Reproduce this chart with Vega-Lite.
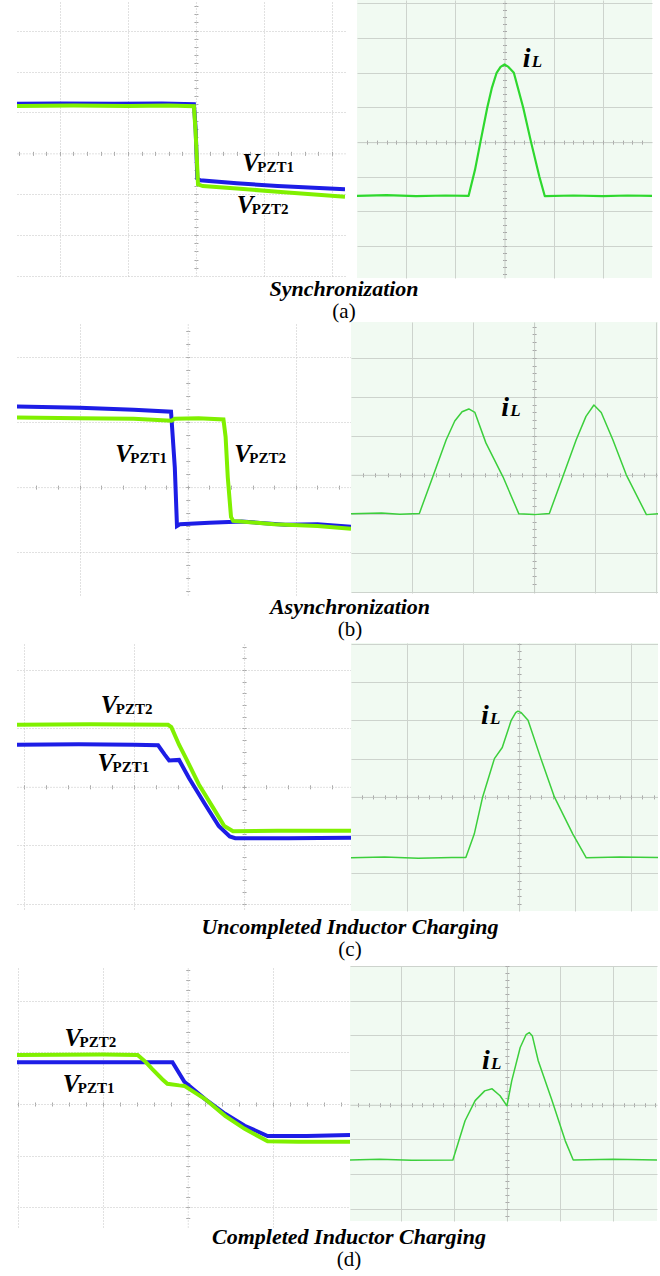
{
 "$schema": "https://vega.github.io/schema/vega-lite/v6.json",
 "padding": 0,
 "background": "white",
 "config": {"view": {"stroke": null}, "axis": {"zindex": 0}},
 "spacing": 0,
 "datasets": {
  "aL": [
   {"s":"b","t":-2.63,"v":1.21},{"s":"b","t":-2.0,"v":1.22},{"s":"b","t":-1.2,"v":1.21},{"s":"b","t":-0.5,"v":1.22},{"s":"b","t":-0.03,"v":1.2},{"s":"b","t":-0.005,"v":0.6},{"s":"b","t":0.02,"v":-0.62},{"s":"b","t":0.06,"v":-0.66},{"s":"b","t":0.6,"v":-0.73},{"s":"b","t":1.2,"v":-0.8},{"s":"b","t":2.19,"v":-0.88},
   {"s":"g","t":-2.63,"v":1.16},{"s":"g","t":-1.8,"v":1.17},{"s":"g","t":-1.0,"v":1.16},{"s":"g","t":-0.4,"v":1.17},{"s":"g","t":-0.03,"v":1.15},{"s":"g","t":-0.005,"v":0.5},{"s":"g","t":0.03,"v":-0.76},{"s":"g","t":0.1,"v":-0.8},{"s":"g","t":0.6,"v":-0.86},{"s":"g","t":1.2,"v":-0.94},{"s":"g","t":2.19,"v":-1.06}
  ],
  "aLlab": [{"t":0.68,"v":-0.42,"a":"V","b":"PZT1"},{"t":0.6,"v":-1.47,"a":"V","b":"PZT2"}],
  "aR": [
   {"t":-3,"v":-1.55},{"t":-2.4,"v":-1.53},{"t":-1.8,"v":-1.56},{"t":-1.2,"v":-1.54},{"t":-0.73,"v":-1.55},{"t":-0.6,"v":-0.8},{"t":-0.49,"v":0.0},{"t":-0.35,"v":1.0},{"t":-0.26,"v":1.55},{"t":-0.16,"v":2.0},{"t":-0.08,"v":2.17},{"t":0,"v":2.24},{"t":0.08,"v":2.17},{"t":0.19,"v":2.0},{"t":0.38,"v":1.0},{"t":0.54,"v":0.0},{"t":0.71,"v":-1.0},{"t":0.82,"v":-1.56},{"t":1.4,"v":-1.54},{"t":2.0,"v":-1.56},{"t":2.5,"v":-1.54},{"t":3,"v":-1.55}
  ],
  "aRlab": [{"t":0.37,"v":2.16,"a":"i","b":"L"}],
  "bL": [
   {"s":"b","t":-1.58,"v":1.24},{"s":"b","t":-1.0,"v":1.22},{"s":"b","t":-0.5,"v":1.19},{"s":"b","t":-0.155,"v":1.16},{"s":"b","t":-0.12,"v":0.3},{"s":"b","t":-0.1,"v":-0.6},{"s":"b","t":-0.07,"v":-0.57},{"s":"b","t":0.2,"v":-0.55},{"s":"b","t":0.5,"v":-0.53},{"s":"b","t":0.9,"v":-0.58},{"s":"b","t":1.2,"v":-0.57},{"s":"b","t":1.51,"v":-0.61},
   {"s":"g","t":-1.58,"v":1.07},{"s":"g","t":-1.0,"v":1.06},{"s":"g","t":-0.5,"v":1.05},{"s":"g","t":-0.15,"v":1.02},{"s":"g","t":-0.12,"v":1.05},{"s":"g","t":0.1,"v":1.06},{"s":"g","t":0.33,"v":1.04},{"s":"g","t":0.35,"v":0.77},{"s":"g","t":0.37,"v":0.15},{"s":"g","t":0.4,"v":-0.46},{"s":"g","t":0.42,"v":-0.52},{"s":"g","t":0.8,"v":-0.57},{"s":"g","t":1.2,"v":-0.6},{"s":"g","t":1.51,"v":-0.64}
  ],
  "bLlab": [{"t":-0.67,"v":0.38,"a":"V","b":"PZT1"},{"t":0.43,"v":0.38,"a":"V","b":"PZT2"}],
  "bR": [
   {"t":-3,"v":-1.0},{"t":-2.5,"v":-0.98},{"t":-2.2,"v":-1.01},{"t":-1.88,"v":-0.99},{"t":-1.66,"v":-0.05},{"t":-1.44,"v":0.9},{"t":-1.3,"v":1.38},{"t":-1.18,"v":1.62},{"t":-1.07,"v":1.69},{"t":-0.97,"v":1.6},{"t":-0.79,"v":0.82},{"t":-0.51,"v":-0.05},{"t":-0.25,"v":-1.0},{"t":0,"v":-1.02},{"t":0.25,"v":-0.99},{"t":0.47,"v":-0.05},{"t":0.69,"v":0.9},{"t":0.85,"v":1.5},{"t":0.98,"v":1.79},{"t":1.1,"v":1.6},{"t":1.29,"v":0.9},{"t":1.51,"v":0.0},{"t":1.84,"v":-1.02},{"t":2.03,"v":-1.0}
  ],
  "bRlab": [{"t":-0.54,"v":1.51,"a":"i","b":"L"}],
  "cL": [
   {"s":"b","t":-2.06,"v":0.72},{"s":"b","t":-1.5,"v":0.73},{"s":"b","t":-1.0,"v":0.72},{"s":"b","t":-0.78,"v":0.71},{"s":"b","t":-0.72,"v":0.55},{"s":"b","t":-0.68,"v":0.45},{"s":"b","t":-0.59,"v":0.46},{"s":"b","t":-0.5,"v":0.15},{"s":"b","t":-0.35,"v":-0.31},{"s":"b","t":-0.23,"v":-0.67},{"s":"b","t":-0.13,"v":-0.85},{"s":"b","t":-0.08,"v":-0.88},{"s":"b","t":0.4,"v":-0.88},{"s":"b","t":0.97,"v":-0.87},
   {"s":"g","t":-2.06,"v":1.06},{"s":"g","t":-1.4,"v":1.07},{"s":"g","t":-0.69,"v":1.06},{"s":"g","t":-0.66,"v":1.02},{"s":"g","t":-0.59,"v":0.72},{"s":"g","t":-0.53,"v":0.5},{"s":"g","t":-0.41,"v":0.04},{"s":"g","t":-0.28,"v":-0.36},{"s":"g","t":-0.18,"v":-0.67},{"s":"g","t":-0.1,"v":-0.76},{"s":"g","t":0.3,"v":-0.75},{"s":"g","t":0.97,"v":-0.75}
  ],
  "cLlab": [{"t":-1.3,"v":1.26,"a":"V","b":"PZT2"},{"t":-1.33,"v":0.27,"a":"V","b":"PZT1"}],
  "cR": [
   {"t":-3,"v":-1.59},{"t":-2.4,"v":-1.57},{"t":-1.8,"v":-1.6},{"t":-1.2,"v":-1.58},{"t":-0.95,"v":-1.58},{"t":-0.8,"v":-0.97},{"t":-0.65,"v":0.0},{"t":-0.44,"v":1.0},{"t":-0.3,"v":1.29},{"t":-0.14,"v":2.0},{"t":-0.06,"v":2.2},{"t":-0.02,"v":2.24},{"t":0.04,"v":2.2},{"t":0.16,"v":2.0},{"t":0.39,"v":1.0},{"t":0.63,"v":0.0},{"t":0.96,"v":-0.97},{"t":1.2,"v":-1.59},{"t":1.8,"v":-1.57},{"t":2.48,"v":-1.58}
  ],
  "cRlab": [{"t":-0.68,"v":1.9,"a":"i","b":"L"}],
  "dL": [
   {"s":"b","t":-2.01,"v":0.81},{"s":"b","t":-1.0,"v":0.81},{"s":"b","t":-0.18,"v":0.81},{"s":"b","t":-0.04,"v":0.43},{"s":"b","t":0.2,"v":0.1},{"s":"b","t":0.44,"v":-0.19},{"s":"b","t":0.67,"v":-0.42},{"s":"b","t":0.94,"v":-0.62},{"s":"b","t":1.4,"v":-0.62},{"s":"b","t":1.91,"v":-0.6},
   {"s":"g","t":-2.01,"v":0.95},{"s":"g","t":-1.0,"v":0.96},{"s":"g","t":-0.59,"v":0.95},{"s":"g","t":-0.5,"v":0.82},{"s":"g","t":-0.42,"v":0.68},{"s":"g","t":-0.3,"v":0.48},{"s":"g","t":-0.24,"v":0.39},{"s":"g","t":-0.1,"v":0.36},{"s":"g","t":-0.04,"v":0.35},{"s":"g","t":0.2,"v":0.1},{"s":"g","t":0.44,"v":-0.23},{"s":"g","t":0.67,"v":-0.48},{"s":"g","t":0.94,"v":-0.72},{"s":"g","t":1.3,"v":-0.73},{"s":"g","t":1.91,"v":-0.73}
  ],
  "dLlab": [{"t":-1.45,"v":1.12,"a":"V","b":"PZT2"},{"t":-1.47,"v":0.23,"a":"V","b":"PZT1"}],
  "dR": [
   {"t":-2.96,"v":-1.59},{"t":-2.4,"v":-1.57},{"t":-1.8,"v":-1.6},{"t":-1.02,"v":-1.59},{"t":-0.79,"v":-0.46},{"t":-0.6,"v":0.12},{"t":-0.42,"v":0.4},{"t":-0.28,"v":0.46},{"t":-0.13,"v":0.26},{"t":0.0,"v":-0.03},{"t":0.09,"v":0.69},{"t":0.25,"v":1.65},{"t":0.36,"v":2.02},{"t":0.42,"v":2.08},{"t":0.48,"v":1.98},{"t":0.59,"v":1.27},{"t":0.85,"v":0.12},{"t":1.1,"v":-1.04},{"t":1.25,"v":-1.59},{"t":2.0,"v":-1.57},{"t":2.83,"v":-1.59}
  ],
  "dRlab": [{"t":-0.47,"v":1.04,"a":"i","b":"L"}]
 },
 "vconcat": [
  {
   "spacing": 12,
   "title": {"text":"Synchronization","subtitle":"(a)","orient":"bottom","anchor":"middle","dx":18,"offset":1,"font":"Liberation Serif, Times New Roman, serif","fontSize":22,"fontStyle":"italic","fontWeight":"bold","color":"#000","subtitleFont":"Liberation Serif, Times New Roman, serif","subtitleFontSize":21,"subtitleFontStyle":"normal","subtitleFontWeight":"normal","subtitleColor":"#000","subtitlePadding":0},
   "hconcat": [
    {
     "width": 328, "height": 276,
     "layer": [
      {"data":{"name":"aL"},"mark":{"type":"line","clip":true,"strokeWidth":4},
       "encoding":{
        "x":{"field":"t","type":"quantitative","scale":{"domain":[-2.63,2.19],"nice":false,"zero":false},"axis":{"orient":"top","values":[-2,-1,1,2],"grid":true,"gridColor":"#c2c2c2","gridDash":[1,2],"ticks":false,"labels":false,"domain":false,"title":null,"minExtent":0,"maxExtent":0}},
        "y":{"field":"v","type":"quantitative","scale":{"domain":[-3,3.75],"nice":false,"zero":false},"axis":{"orient":"left","values":[-3,-2,-1,1,2,3],"grid":true,"gridColor":"#c2c2c2","gridDash":[1,2],"ticks":false,"labels":false,"domain":false,"title":null,"minExtent":17,"maxExtent":17}},
        "color":{"field":"s","type":"nominal","scale":{"domain":["b","g"],"range":["#1d1de6","#80f000"]},"legend":null}}},
      {"data":{"name":"aL"},"mark":{"type":"line","opacity":0},
       "encoding":{
        "x":{"field":"t","type":"quantitative","scale":{"domain":[-2.63,2.19],"nice":false,"zero":false},"axis":{"orient":"bottom","offset":-122.67,"values":[-2.6,-2.4,-2.2,-2,-1.8,-1.6,-1.4,-1.2,-1,-0.8,-0.6,-0.4,-0.2,0,0.2,0.4,0.6,0.8,1,1.2,1.4,1.6,1.8,2],"grid":false,"labels":false,"ticks":true,"tickSize":2,"tickColor":"#aaaaaa","domain":true,"domainColor":"#c2c2c2","domainDash":[1,2],"title":null,"minExtent":0,"maxExtent":0}},
        "y":{"field":"v","type":"quantitative","scale":{"domain":[-3,3.75],"nice":false,"zero":false},"axis":{"orient":"left","offset":-178.96,"values":[-2.8,-2.6,-2.4,-2.2,-2,-1.8,-1.6,-1.4,-1.2,-1,-0.8,-0.6,-0.4,-0.2,0,0.2,0.4,0.6,0.8,1,1.2,1.4,1.6,1.8,2,2.2,2.4,2.6,2.8,3,3.2,3.4,3.6],"grid":false,"labels":false,"ticks":true,"tickSize":2,"tickColor":"#aaaaaa","domain":true,"domainColor":"#c2c2c2","domainDash":[1,2],"title":null,"minExtent":0,"maxExtent":0}},
        "detail":{"field":"s"}}},
      {"data":{"name":"aL"},"mark":{"type":"line","opacity":0},
       "encoding":{
        "x":{"field":"t","type":"quantitative","scale":{"domain":[-2.63,2.19],"nice":false,"zero":false},"axis":{"orient":"top","offset":-153.33,"values":[-2.6,-2.4,-2.2,-2,-1.8,-1.6,-1.4,-1.2,-1,-0.8,-0.6,-0.4,-0.2,0,0.2,0.4,0.6,0.8,1,1.2,1.4,1.6,1.8,2],"grid":false,"labels":false,"ticks":true,"tickSize":2,"tickColor":"#aaaaaa","domain":false,"title":null,"minExtent":0,"maxExtent":0}},
        "y":{"field":"v","type":"quantitative","scale":{"domain":[-3,3.75],"nice":false,"zero":false},"axis":{"orient":"right","offset":-149.04,"values":[-2.8,-2.6,-2.4,-2.2,-2,-1.8,-1.6,-1.4,-1.2,-1,-0.8,-0.6,-0.4,-0.2,0,0.2,0.4,0.6,0.8,1,1.2,1.4,1.6,1.8,2,2.2,2.4,2.6,2.8,3,3.2,3.4,3.6],"grid":false,"labels":false,"ticks":true,"tickSize":2,"tickColor":"#aaaaaa","domain":false,"title":null,"minExtent":0,"maxExtent":0}},
        "detail":{"field":"s"}}},
      {"data":{"name":"aLlab"},"mark":{"type":"text","align":"left","baseline":"alphabetic","font":"Liberation Serif, Times New Roman, serif","fontSize":25,"fontStyle":"italic","fontWeight":"bold","color":"#000"},
       "encoding":{"x":{"field":"t","type":"quantitative","scale":{"domain":[-2.63,2.19],"nice":false,"zero":false},"axis":null},"y":{"field":"v","type":"quantitative","scale":{"domain":[-3,3.75],"nice":false,"zero":false},"axis":null},"text":{"field":"a"}}},
      {"data":{"name":"aLlab"},"mark":{"type":"text","align":"left","baseline":"alphabetic","font":"Liberation Serif, Times New Roman, serif","fontSize":15,"fontWeight":"bold","dx":15,"dy":1,"color":"#000"},
       "encoding":{"x":{"field":"t","type":"quantitative","scale":{"domain":[-2.63,2.19],"nice":false,"zero":false},"axis":null},"y":{"field":"v","type":"quantitative","scale":{"domain":[-3,3.75],"nice":false,"zero":false},"axis":null},"text":{"field":"b"}}}
     ],
     "resolve":{"axis":{"x":"independent","y":"independent"}}
    },
    {
     "width": 295, "height": 278,
     "view": {"stroke": null, "fill": "#f1faf2"},
     "layer": [
      {"data":{"name":"aR"},"mark":{"type":"line","clip":true,"strokeWidth":2.2,"strokeJoin":"round","color":"#2ed82e"},
       "encoding":{
        "x":{"field":"t","type":"quantitative","scale":{"domain":[-3,3],"nice":false,"zero":false},"axis":{"orient":"top","values":[-2,-1,1,2],"grid":true,"gridColor":"#cdd3cd","ticks":false,"labels":false,"domain":false,"title":null,"minExtent":0,"maxExtent":0}},
        "y":{"field":"v","type":"quantitative","scale":{"domain":[-3.92,4.1],"nice":false,"zero":false},"axis":{"orient":"left","values":[-3,-2,-1,1,2,3,4],"grid":true,"gridColor":"#cdd3cd","ticks":false,"labels":false,"domain":false,"title":null,"minExtent":0,"maxExtent":0}}}},
      {"data":{"name":"aR"},"mark":{"type":"line","opacity":0},
       "encoding":{
        "x":{"field":"t","type":"quantitative","scale":{"domain":[-3,3],"nice":false,"zero":false},"axis":{"orient":"bottom","offset":-135.88,"values":[-2.8,-2.6,-2.4,-2.2,-2,-1.8,-1.6,-1.4,-1.2,-1,-0.8,-0.6,-0.4,-0.2,0,0.2,0.4,0.6,0.8,1,1.2,1.4,1.6,1.8,2,2.2,2.4,2.6,2.8],"grid":false,"labels":false,"ticks":true,"tickSize":2,"tickColor":"#a8a8a8","domain":true,"domainColor":"#c4cac4","title":null,"minExtent":0,"maxExtent":0}},
        "y":{"field":"v","type":"quantitative","scale":{"domain":[-3.92,4.1],"nice":false,"zero":false},"axis":{"orient":"left","offset":-147.5,"values":[-3.8,-3.6,-3.4,-3.2,-3,-2.8,-2.6,-2.4,-2.2,-2,-1.8,-1.6,-1.4,-1.2,-1,-0.8,-0.6,-0.4,-0.2,0,0.2,0.4,0.6,0.8,1,1.2,1.4,1.6,1.8,2,2.2,2.4,2.6,2.8,3,3.2,3.4,3.6,3.8,4],"grid":false,"labels":false,"ticks":true,"tickSize":2,"tickColor":"#a8a8a8","domain":true,"domainColor":"#c4cac4","title":null,"minExtent":0,"maxExtent":0}}}},
      {"data":{"name":"aR"},"mark":{"type":"line","opacity":0},
       "encoding":{
        "x":{"field":"t","type":"quantitative","scale":{"domain":[-3,3],"nice":false,"zero":false},"axis":{"orient":"top","offset":-142.12,"values":[-2.8,-2.6,-2.4,-2.2,-2,-1.8,-1.6,-1.4,-1.2,-1,-0.8,-0.6,-0.4,-0.2,0,0.2,0.4,0.6,0.8,1,1.2,1.4,1.6,1.8,2,2.2,2.4,2.6,2.8],"grid":false,"labels":false,"ticks":true,"tickSize":2,"tickColor":"#a8a8a8","domain":false,"title":null,"minExtent":0,"maxExtent":0}},
        "y":{"field":"v","type":"quantitative","scale":{"domain":[-3.92,4.1],"nice":false,"zero":false},"axis":{"orient":"right","offset":-147.5,"values":[-3.8,-3.6,-3.4,-3.2,-3,-2.8,-2.6,-2.4,-2.2,-2,-1.8,-1.6,-1.4,-1.2,-1,-0.8,-0.6,-0.4,-0.2,0,0.2,0.4,0.6,0.8,1,1.2,1.4,1.6,1.8,2,2.2,2.4,2.6,2.8,3,3.2,3.4,3.6,3.8,4],"grid":false,"labels":false,"ticks":true,"tickSize":2,"tickColor":"#a8a8a8","domain":false,"title":null,"minExtent":0,"maxExtent":0}}}},
      {"data":{"name":"aRlab"},"mark":{"type":"text","align":"left","baseline":"alphabetic","font":"Liberation Serif, Times New Roman, serif","fontSize":28,"fontStyle":"italic","fontWeight":"bold","color":"#000"},
       "encoding":{"x":{"field":"t","type":"quantitative","scale":{"domain":[-3,3],"nice":false,"zero":false},"axis":null},"y":{"field":"v","type":"quantitative","scale":{"domain":[-3.92,4.1],"nice":false,"zero":false},"axis":null},"text":{"field":"a"}}},
      {"data":{"name":"aRlab"},"mark":{"type":"text","align":"left","baseline":"alphabetic","font":"Liberation Serif, Times New Roman, serif","fontSize":17,"fontStyle":"italic","fontWeight":"bold","dx":9,"color":"#000"},
       "encoding":{"x":{"field":"t","type":"quantitative","scale":{"domain":[-3,3],"nice":false,"zero":false},"axis":null},"y":{"field":"v","type":"quantitative","scale":{"domain":[-3.92,4.1],"nice":false,"zero":false},"axis":null},"text":{"field":"b"}}}
     ],
     "resolve":{"axis":{"x":"independent","y":"independent"}}
    }
   ]
  },
  {
   "spacing": 0,
   "title": {"text":"Asynchronization","subtitle":"(b)","orient":"bottom","anchor":"middle","dx":18,"offset":2,"font":"Liberation Serif, Times New Roman, serif","fontSize":22,"fontStyle":"italic","fontWeight":"bold","color":"#000","subtitleFont":"Liberation Serif, Times New Roman, serif","subtitleFontSize":21,"subtitleFontStyle":"normal","subtitleFontWeight":"normal","subtitleColor":"#000","subtitlePadding":0},
   "hconcat": [
    {
     "width": 334, "height": 273,
     "layer": [
      {"data":{"name":"bL"},"mark":{"type":"line","clip":true,"strokeWidth":4},
       "encoding":{
        "x":{"field":"t","type":"quantitative","scale":{"domain":[-1.58,1.51],"nice":false,"zero":false},"axis":{"orient":"top","values":[-1,1],"grid":true,"gridColor":"#c2c2c2","gridDash":[1,2],"ticks":false,"labels":false,"domain":false,"title":null,"minExtent":0,"maxExtent":0}},
        "y":{"field":"v","type":"quantitative","scale":{"domain":[-1.66,2.54],"nice":false,"zero":false},"axis":{"orient":"left","values":[-1,1,2],"grid":true,"gridColor":"#c2c2c2","gridDash":[1,2],"ticks":false,"labels":false,"domain":false,"title":null,"minExtent":11,"maxExtent":11}},
        "color":{"field":"s","type":"nominal","scale":{"domain":["b","g"],"range":["#1d1de6","#80f000"]},"legend":null}}},
      {"data":{"name":"bL"},"mark":{"type":"line","opacity":0},
       "encoding":{
        "x":{"field":"t","type":"quantitative","scale":{"domain":[-1.58,1.51],"nice":false,"zero":false},"axis":{"orient":"bottom","offset":-107.9,"values":[-1.4,-1.2,-1,-0.8,-0.6,-0.4,-0.2,0,0.2,0.4,0.6,0.8,1,1.2,1.4],"grid":false,"labels":false,"ticks":true,"tickSize":2,"tickColor":"#aaaaaa","domain":true,"domainColor":"#c2c2c2","domainDash":[1,2],"title":null,"minExtent":0,"maxExtent":0}},
        "y":{"field":"v","type":"quantitative","scale":{"domain":[-1.66,2.54],"nice":false,"zero":false},"axis":{"orient":"left","offset":-170.78,"values":[-1.6,-1.4,-1.2,-1,-0.8,-0.6,-0.4,-0.2,0,0.2,0.4,0.6,0.8,1,1.2,1.4,1.6,1.8,2,2.2,2.4],"grid":false,"labels":false,"ticks":true,"tickSize":2,"tickColor":"#aaaaaa","domain":true,"domainColor":"#c2c2c2","domainDash":[1,2],"title":null,"minExtent":0,"maxExtent":0}},
        "detail":{"field":"s"}}},
      {"data":{"name":"bL"},"mark":{"type":"line","opacity":0},
       "encoding":{
        "x":{"field":"t","type":"quantitative","scale":{"domain":[-1.58,1.51],"nice":false,"zero":false},"axis":{"orient":"top","offset":-165.1,"values":[-1.4,-1.2,-1,-0.8,-0.6,-0.4,-0.2,0,0.2,0.4,0.6,0.8,1,1.2,1.4],"grid":false,"labels":false,"ticks":true,"tickSize":2,"tickColor":"#aaaaaa","domain":false,"title":null,"minExtent":0,"maxExtent":0}},
        "y":{"field":"v","type":"quantitative","scale":{"domain":[-1.66,2.54],"nice":false,"zero":false},"axis":{"orient":"right","offset":-163.22,"values":[-1.6,-1.4,-1.2,-1,-0.8,-0.6,-0.4,-0.2,0,0.2,0.4,0.6,0.8,1,1.2,1.4,1.6,1.8,2,2.2,2.4],"grid":false,"labels":false,"ticks":true,"tickSize":2,"tickColor":"#aaaaaa","domain":false,"title":null,"minExtent":0,"maxExtent":0}},
        "detail":{"field":"s"}}},
      {"data":{"name":"bLlab"},"mark":{"type":"text","align":"left","baseline":"alphabetic","font":"Liberation Serif, Times New Roman, serif","fontSize":25,"fontStyle":"italic","fontWeight":"bold","color":"#000"},
       "encoding":{"x":{"field":"t","type":"quantitative","scale":{"domain":[-1.58,1.51],"nice":false,"zero":false},"axis":null},"y":{"field":"v","type":"quantitative","scale":{"domain":[-1.66,2.54],"nice":false,"zero":false},"axis":null},"text":{"field":"a"}}},
      {"data":{"name":"bLlab"},"mark":{"type":"text","align":"left","baseline":"alphabetic","font":"Liberation Serif, Times New Roman, serif","fontSize":15,"fontWeight":"bold","dx":15,"dy":1,"color":"#000"},
       "encoding":{"x":{"field":"t","type":"quantitative","scale":{"domain":[-1.58,1.51],"nice":false,"zero":false},"axis":null},"y":{"field":"v","type":"quantitative","scale":{"domain":[-1.66,2.54],"nice":false,"zero":false},"axis":null},"text":{"field":"b"}}}
     ],
     "resolve":{"axis":{"x":"independent","y":"independent"}}
    },
    {
     "width": 307, "height": 271,
     "view": {"stroke": null, "fill": "#f1faf2"},
     "layer": [
      {"data":{"name":"bR"},"mark":{"type":"line","clip":true,"strokeWidth":1.5,"strokeJoin":"round","color":"#3ccf3c"},
       "encoding":{
        "x":{"field":"t","type":"quantitative","scale":{"domain":[-3,2.03],"nice":false,"zero":false},"axis":{"orient":"top","values":[-2,-1,1,2],"grid":true,"gridColor":"#cdd3cd","ticks":false,"labels":false,"domain":false,"title":null,"minExtent":0,"maxExtent":0}},
        "y":{"field":"v","type":"quantitative","scale":{"domain":[-3.03,3.92],"nice":false,"zero":false},"axis":{"orient":"left","values":[-3,-2,-1,1,2,3],"grid":true,"gridColor":"#cdd3cd","ticks":false,"labels":false,"domain":false,"title":null,"minExtent":0,"maxExtent":0}}}},
      {"data":{"name":"bR"},"mark":{"type":"line","opacity":0},
       "encoding":{
        "x":{"field":"t","type":"quantitative","scale":{"domain":[-3,2.03],"nice":false,"zero":false},"axis":{"orient":"bottom","offset":-118.15,"values":[-2.8,-2.6,-2.4,-2.2,-2,-1.8,-1.6,-1.4,-1.2,-1,-0.8,-0.6,-0.4,-0.2,0,0.2,0.4,0.6,0.8,1,1.2,1.4,1.6,1.8,2],"grid":false,"labels":false,"ticks":true,"tickSize":2,"tickColor":"#a8a8a8","domain":true,"domainColor":"#c4cac4","title":null,"minExtent":0,"maxExtent":0}},
        "y":{"field":"v","type":"quantitative","scale":{"domain":[-3.03,3.92],"nice":false,"zero":false},"axis":{"orient":"left","offset":-183.1,"values":[-2.8,-2.6,-2.4,-2.2,-2,-1.8,-1.6,-1.4,-1.2,-1,-0.8,-0.6,-0.4,-0.2,0,0.2,0.4,0.6,0.8,1,1.2,1.4,1.6,1.8,2,2.2,2.4,2.6,2.8,3,3.2,3.4,3.6,3.8],"grid":false,"labels":false,"ticks":true,"tickSize":2,"tickColor":"#a8a8a8","domain":true,"domainColor":"#c4cac4","title":null,"minExtent":0,"maxExtent":0}}}},
      {"data":{"name":"bR"},"mark":{"type":"line","opacity":0},
       "encoding":{
        "x":{"field":"t","type":"quantitative","scale":{"domain":[-3,2.03],"nice":false,"zero":false},"axis":{"orient":"top","offset":-152.85,"values":[-2.8,-2.6,-2.4,-2.2,-2,-1.8,-1.6,-1.4,-1.2,-1,-0.8,-0.6,-0.4,-0.2,0,0.2,0.4,0.6,0.8,1,1.2,1.4,1.6,1.8,2],"grid":false,"labels":false,"ticks":true,"tickSize":2,"tickColor":"#a8a8a8","domain":false,"title":null,"minExtent":0,"maxExtent":0}},
        "y":{"field":"v","type":"quantitative","scale":{"domain":[-3.03,3.92],"nice":false,"zero":false},"axis":{"orient":"right","offset":-123.9,"values":[-2.8,-2.6,-2.4,-2.2,-2,-1.8,-1.6,-1.4,-1.2,-1,-0.8,-0.6,-0.4,-0.2,0,0.2,0.4,0.6,0.8,1,1.2,1.4,1.6,1.8,2,2.2,2.4,2.6,2.8,3,3.2,3.4,3.6,3.8],"grid":false,"labels":false,"ticks":true,"tickSize":2,"tickColor":"#a8a8a8","domain":false,"title":null,"minExtent":0,"maxExtent":0}}}},
      {"data":{"name":"bRlab"},"mark":{"type":"text","align":"left","baseline":"alphabetic","font":"Liberation Serif, Times New Roman, serif","fontSize":28,"fontStyle":"italic","fontWeight":"bold","color":"#000"},
       "encoding":{"x":{"field":"t","type":"quantitative","scale":{"domain":[-3,2.03],"nice":false,"zero":false},"axis":null},"y":{"field":"v","type":"quantitative","scale":{"domain":[-3.03,3.92],"nice":false,"zero":false},"axis":null},"text":{"field":"a"}}},
      {"data":{"name":"bRlab"},"mark":{"type":"text","align":"left","baseline":"alphabetic","font":"Liberation Serif, Times New Roman, serif","fontSize":17,"fontStyle":"italic","fontWeight":"bold","dx":9,"color":"#000"},
       "encoding":{"x":{"field":"t","type":"quantitative","scale":{"domain":[-3,2.03],"nice":false,"zero":false},"axis":null},"y":{"field":"v","type":"quantitative","scale":{"domain":[-3.03,3.92],"nice":false,"zero":false},"axis":null},"text":{"field":"b"}}}
     ],
     "resolve":{"axis":{"x":"independent","y":"independent"}}
    }
   ]
  },
  {
   "spacing": 0,
   "title": {"text":"Uncompleted Inductor Charging","subtitle":"(c)","orient":"bottom","anchor":"middle","dx":18,"offset":6,"font":"Liberation Serif, Times New Roman, serif","fontSize":22,"fontStyle":"italic","fontWeight":"bold","color":"#000","subtitleFont":"Liberation Serif, Times New Roman, serif","subtitleFontSize":21,"subtitleFontStyle":"normal","subtitleFontWeight":"normal","subtitleColor":"#000","subtitlePadding":0},
   "hconcat": [
    {
     "width": 334, "height": 266,
     "layer": [
      {"data":{"name":"cL"},"mark":{"type":"line","clip":true,"strokeWidth":4},
       "encoding":{
        "x":{"field":"t","type":"quantitative","scale":{"domain":[-2.06,0.97],"nice":false,"zero":false},"axis":{"orient":"top","values":[-2,-1],"grid":true,"gridColor":"#c2c2c2","gridDash":[1,2],"ticks":false,"labels":false,"domain":false,"title":null,"minExtent":3,"maxExtent":3}},
        "y":{"field":"v","type":"quantitative","scale":{"domain":[-2.09,2.46],"nice":false,"zero":false},"axis":{"orient":"left","values":[-2,-1,1,2],"grid":true,"gridColor":"#c2c2c2","gridDash":[1,2],"ticks":false,"labels":false,"domain":false,"title":null,"minExtent":11,"maxExtent":11}},
        "color":{"field":"s","type":"nominal","scale":{"domain":["b","g"],"range":["#1d1de6","#80f000"]},"legend":null}}},
      {"data":{"name":"cL"},"mark":{"type":"line","opacity":0},
       "encoding":{
        "x":{"field":"t","type":"quantitative","scale":{"domain":[-2.06,0.97],"nice":false,"zero":false},"axis":{"orient":"bottom","offset":-122.18,"values":[-2,-1.8,-1.6,-1.4,-1.2,-1,-0.8,-0.6,-0.4,-0.2,0,0.2,0.4,0.6,0.8],"grid":false,"labels":false,"ticks":true,"tickSize":2,"tickColor":"#aaaaaa","domain":true,"domainColor":"#c2c2c2","domainDash":[1,2],"title":null,"minExtent":0,"maxExtent":0}},
        "y":{"field":"v","type":"quantitative","scale":{"domain":[-2.09,2.46],"nice":false,"zero":false},"axis":{"orient":"left","offset":-227.07,"values":[-2,-1.8,-1.6,-1.4,-1.2,-1,-0.8,-0.6,-0.4,-0.2,0,0.2,0.4,0.6,0.8,1,1.2,1.4,1.6,1.8,2,2.2,2.4],"grid":false,"labels":false,"ticks":true,"tickSize":2,"tickColor":"#aaaaaa","domain":true,"domainColor":"#c2c2c2","domainDash":[1,2],"title":null,"minExtent":0,"maxExtent":0}},
        "detail":{"field":"s"}}},
      {"data":{"name":"cL"},"mark":{"type":"line","opacity":0},
       "encoding":{
        "x":{"field":"t","type":"quantitative","scale":{"domain":[-2.06,0.97],"nice":false,"zero":false},"axis":{"orient":"top","offset":-143.82,"values":[-2,-1.8,-1.6,-1.4,-1.2,-1,-0.8,-0.6,-0.4,-0.2,0,0.2,0.4,0.6,0.8],"grid":false,"labels":false,"ticks":true,"tickSize":2,"tickColor":"#aaaaaa","domain":false,"title":null,"minExtent":0,"maxExtent":0}},
        "y":{"field":"v","type":"quantitative","scale":{"domain":[-2.09,2.46],"nice":false,"zero":false},"axis":{"orient":"right","offset":-106.93,"values":[-2,-1.8,-1.6,-1.4,-1.2,-1,-0.8,-0.6,-0.4,-0.2,0,0.2,0.4,0.6,0.8,1,1.2,1.4,1.6,1.8,2,2.2,2.4],"grid":false,"labels":false,"ticks":true,"tickSize":2,"tickColor":"#aaaaaa","domain":false,"title":null,"minExtent":0,"maxExtent":0}},
        "detail":{"field":"s"}}},
      {"data":{"name":"cLlab"},"mark":{"type":"text","align":"left","baseline":"alphabetic","font":"Liberation Serif, Times New Roman, serif","fontSize":25,"fontStyle":"italic","fontWeight":"bold","color":"#000"},
       "encoding":{"x":{"field":"t","type":"quantitative","scale":{"domain":[-2.06,0.97],"nice":false,"zero":false},"axis":null},"y":{"field":"v","type":"quantitative","scale":{"domain":[-2.09,2.46],"nice":false,"zero":false},"axis":null},"text":{"field":"a"}}},
      {"data":{"name":"cLlab"},"mark":{"type":"text","align":"left","baseline":"alphabetic","font":"Liberation Serif, Times New Roman, serif","fontSize":15,"fontWeight":"bold","dx":15,"dy":1,"color":"#000"},
       "encoding":{"x":{"field":"t","type":"quantitative","scale":{"domain":[-2.06,0.97],"nice":false,"zero":false},"axis":null},"y":{"field":"v","type":"quantitative","scale":{"domain":[-2.09,2.46],"nice":false,"zero":false},"axis":null},"text":{"field":"b"}}}
     ],
     "resolve":{"axis":{"x":"independent","y":"independent"}}
    },
    {
     "width": 307, "height": 268,
     "view": {"stroke": null, "fill": "#f1faf2"},
     "layer": [
      {"data":{"name":"cR"},"mark":{"type":"line","clip":true,"strokeWidth":1.5,"strokeJoin":"round","color":"#3ccf3c"},
       "encoding":{
        "x":{"field":"t","type":"quantitative","scale":{"domain":[-3,2.48],"nice":false,"zero":false},"axis":{"orient":"top","values":[-2,-1,1,2],"grid":true,"gridColor":"#cdd3cd","ticks":false,"labels":false,"domain":false,"title":null,"minExtent":3,"maxExtent":3}},
        "y":{"field":"v","type":"quantitative","scale":{"domain":[-2.98,4.02],"nice":false,"zero":false},"axis":{"orient":"left","values":[-2,-1,1,2,3,4],"grid":true,"gridColor":"#cdd3cd","ticks":false,"labels":false,"domain":false,"title":null,"minExtent":0,"maxExtent":0}}}},
      {"data":{"name":"cR"},"mark":{"type":"line","opacity":0},
       "encoding":{
        "x":{"field":"t","type":"quantitative","scale":{"domain":[-3,2.48],"nice":false,"zero":false},"axis":{"orient":"bottom","offset":-114.09,"values":[-2.8,-2.6,-2.4,-2.2,-2,-1.8,-1.6,-1.4,-1.2,-1,-0.8,-0.6,-0.4,-0.2,0,0.2,0.4,0.6,0.8,1,1.2,1.4,1.6,1.8,2,2.2,2.4],"grid":false,"labels":false,"ticks":true,"tickSize":2,"tickColor":"#a8a8a8","domain":true,"domainColor":"#c4cac4","title":null,"minExtent":0,"maxExtent":0}},
        "y":{"field":"v","type":"quantitative","scale":{"domain":[-2.98,4.02],"nice":false,"zero":false},"axis":{"orient":"left","offset":-168.07,"values":[-2.8,-2.6,-2.4,-2.2,-2,-1.8,-1.6,-1.4,-1.2,-1,-0.8,-0.6,-0.4,-0.2,0,0.2,0.4,0.6,0.8,1,1.2,1.4,1.6,1.8,2,2.2,2.4,2.6,2.8,3,3.2,3.4,3.6,3.8,4],"grid":false,"labels":false,"ticks":true,"tickSize":2,"tickColor":"#a8a8a8","domain":true,"domainColor":"#c4cac4","title":null,"minExtent":0,"maxExtent":0}}}},
      {"data":{"name":"cR"},"mark":{"type":"line","opacity":0},
       "encoding":{
        "x":{"field":"t","type":"quantitative","scale":{"domain":[-3,2.48],"nice":false,"zero":false},"axis":{"orient":"top","offset":-153.91,"values":[-2.8,-2.6,-2.4,-2.2,-2,-1.8,-1.6,-1.4,-1.2,-1,-0.8,-0.6,-0.4,-0.2,0,0.2,0.4,0.6,0.8,1,1.2,1.4,1.6,1.8,2,2.2,2.4],"grid":false,"labels":false,"ticks":true,"tickSize":2,"tickColor":"#a8a8a8","domain":false,"title":null,"minExtent":0,"maxExtent":0}},
        "y":{"field":"v","type":"quantitative","scale":{"domain":[-2.98,4.02],"nice":false,"zero":false},"axis":{"orient":"right","offset":-138.93,"values":[-2.8,-2.6,-2.4,-2.2,-2,-1.8,-1.6,-1.4,-1.2,-1,-0.8,-0.6,-0.4,-0.2,0,0.2,0.4,0.6,0.8,1,1.2,1.4,1.6,1.8,2,2.2,2.4,2.6,2.8,3,3.2,3.4,3.6,3.8,4],"grid":false,"labels":false,"ticks":true,"tickSize":2,"tickColor":"#a8a8a8","domain":false,"title":null,"minExtent":0,"maxExtent":0}}}},
      {"data":{"name":"cRlab"},"mark":{"type":"text","align":"left","baseline":"alphabetic","font":"Liberation Serif, Times New Roman, serif","fontSize":28,"fontStyle":"italic","fontWeight":"bold","color":"#000"},
       "encoding":{"x":{"field":"t","type":"quantitative","scale":{"domain":[-3,2.48],"nice":false,"zero":false},"axis":null},"y":{"field":"v","type":"quantitative","scale":{"domain":[-2.98,4.02],"nice":false,"zero":false},"axis":null},"text":{"field":"a"}}},
      {"data":{"name":"cRlab"},"mark":{"type":"text","align":"left","baseline":"alphabetic","font":"Liberation Serif, Times New Roman, serif","fontSize":17,"fontStyle":"italic","fontWeight":"bold","dx":9,"color":"#000"},
       "encoding":{"x":{"field":"t","type":"quantitative","scale":{"domain":[-3,2.48],"nice":false,"zero":false},"axis":null},"y":{"field":"v","type":"quantitative","scale":{"domain":[-2.98,4.02],"nice":false,"zero":false},"axis":null},"text":{"field":"b"}}}
     ],
     "resolve":{"axis":{"x":"independent","y":"independent"}}
    }
   ]
  },
  {
   "spacing": 0,
   "title": {"text":"Completed Inductor Charging","subtitle":"(d)","orient":"bottom","anchor":"middle","dx":18,"offset":0,"font":"Liberation Serif, Times New Roman, serif","fontSize":22,"fontStyle":"italic","fontWeight":"bold","color":"#000","subtitleFont":"Liberation Serif, Times New Roman, serif","subtitleFontSize":21,"subtitleFontStyle":"normal","subtitleFontWeight":"normal","subtitleColor":"#000","subtitlePadding":0},
   "hconcat": [
    {
     "width": 333, "height": 261,
     "layer": [
      {"data":{"name":"dL"},"mark":{"type":"line","clip":true,"strokeWidth":4},
       "encoding":{
        "x":{"field":"t","type":"quantitative","scale":{"domain":[-2.01,1.91],"nice":false,"zero":false},"axis":{"orient":"top","values":[-2,-1,1],"grid":true,"gridColor":"#c2c2c2","gridDash":[1,2],"ticks":false,"labels":false,"domain":false,"title":null,"minExtent":6,"maxExtent":6}},
        "y":{"field":"v","type":"quantitative","scale":{"domain":[-2.38,2.67],"nice":false,"zero":false},"axis":{"orient":"left","values":[-2,-1,1,2],"grid":true,"gridColor":"#c2c2c2","gridDash":[1,2],"ticks":false,"labels":false,"domain":false,"title":null,"minExtent":12,"maxExtent":12}},
        "color":{"field":"s","type":"nominal","scale":{"domain":["b","g"],"range":["#1d1de6","#80f000"]},"legend":null}}},
      {"data":{"name":"dL"},"mark":{"type":"line","opacity":0},
       "encoding":{
        "x":{"field":"t","type":"quantitative","scale":{"domain":[-2.01,1.91],"nice":false,"zero":false},"axis":{"orient":"bottom","offset":-123.0,"values":[-2,-1.8,-1.6,-1.4,-1.2,-1,-0.8,-0.6,-0.4,-0.2,0,0.2,0.4,0.6,0.8,1,1.2,1.4,1.6,1.8],"grid":false,"labels":false,"ticks":true,"tickSize":2,"tickColor":"#aaaaaa","domain":true,"domainColor":"#c2c2c2","domainDash":[1,2],"title":null,"minExtent":0,"maxExtent":0}},
        "y":{"field":"v","type":"quantitative","scale":{"domain":[-2.38,2.67],"nice":false,"zero":false},"axis":{"orient":"left","offset":-170.75,"values":[-2.2,-2,-1.8,-1.6,-1.4,-1.2,-1,-0.8,-0.6,-0.4,-0.2,0,0.2,0.4,0.6,0.8,1,1.2,1.4,1.6,1.8,2,2.2,2.4,2.6],"grid":false,"labels":false,"ticks":true,"tickSize":2,"tickColor":"#aaaaaa","domain":true,"domainColor":"#c2c2c2","domainDash":[1,2],"title":null,"minExtent":0,"maxExtent":0}},
        "detail":{"field":"s"}}},
      {"data":{"name":"dL"},"mark":{"type":"line","opacity":0},
       "encoding":{
        "x":{"field":"t","type":"quantitative","scale":{"domain":[-2.01,1.91],"nice":false,"zero":false},"axis":{"orient":"top","offset":-138.0,"values":[-2,-1.8,-1.6,-1.4,-1.2,-1,-0.8,-0.6,-0.4,-0.2,0,0.2,0.4,0.6,0.8,1,1.2,1.4,1.6,1.8],"grid":false,"labels":false,"ticks":true,"tickSize":2,"tickColor":"#aaaaaa","domain":false,"title":null,"minExtent":0,"maxExtent":0}},
        "y":{"field":"v","type":"quantitative","scale":{"domain":[-2.38,2.67],"nice":false,"zero":false},"axis":{"orient":"right","offset":-162.25,"values":[-2.2,-2,-1.8,-1.6,-1.4,-1.2,-1,-0.8,-0.6,-0.4,-0.2,0,0.2,0.4,0.6,0.8,1,1.2,1.4,1.6,1.8,2,2.2,2.4,2.6],"grid":false,"labels":false,"ticks":true,"tickSize":2,"tickColor":"#aaaaaa","domain":false,"title":null,"minExtent":0,"maxExtent":0}},
        "detail":{"field":"s"}}},
      {"data":{"name":"dLlab"},"mark":{"type":"text","align":"left","baseline":"alphabetic","font":"Liberation Serif, Times New Roman, serif","fontSize":25,"fontStyle":"italic","fontWeight":"bold","color":"#000"},
       "encoding":{"x":{"field":"t","type":"quantitative","scale":{"domain":[-2.01,1.91],"nice":false,"zero":false},"axis":null},"y":{"field":"v","type":"quantitative","scale":{"domain":[-2.38,2.67],"nice":false,"zero":false},"axis":null},"text":{"field":"a"}}},
      {"data":{"name":"dLlab"},"mark":{"type":"text","align":"left","baseline":"alphabetic","font":"Liberation Serif, Times New Roman, serif","fontSize":15,"fontWeight":"bold","dx":15,"dy":1,"color":"#000"},
       "encoding":{"x":{"field":"t","type":"quantitative","scale":{"domain":[-2.01,1.91],"nice":false,"zero":false},"axis":null},"y":{"field":"v","type":"quantitative","scale":{"domain":[-2.38,2.67],"nice":false,"zero":false},"axis":null},"text":{"field":"b"}}}
     ],
     "resolve":{"axis":{"x":"independent","y":"independent"}}
    },
    {
     "width": 307, "height": 255,
     "view": {"stroke": null, "fill": "#f1faf2"},
     "layer": [
      {"data":{"name":"dR"},"mark":{"type":"line","clip":true,"strokeWidth":1.5,"strokeJoin":"round","color":"#3ccf3c"},
       "encoding":{
        "x":{"field":"t","type":"quantitative","scale":{"domain":[-2.96,2.83],"nice":false,"zero":false},"axis":{"orient":"top","values":[-2,-1,1,2],"grid":true,"gridColor":"#cdd3cd","ticks":false,"labels":false,"domain":false,"title":null,"minExtent":6,"maxExtent":6}},
        "y":{"field":"v","type":"quantitative","scale":{"domain":[-3.35,4.0],"nice":false,"zero":false},"axis":{"orient":"left","values":[-3,-2,-1,1,2,3,4],"grid":true,"gridColor":"#cdd3cd","ticks":false,"labels":false,"domain":false,"title":null,"minExtent":0,"maxExtent":0}}}},
      {"data":{"name":"dR"},"mark":{"type":"line","opacity":0},
       "encoding":{
        "x":{"field":"t","type":"quantitative","scale":{"domain":[-2.96,2.83],"nice":false,"zero":false},"axis":{"orient":"bottom","offset":-116.22,"values":[-2.8,-2.6,-2.4,-2.2,-2,-1.8,-1.6,-1.4,-1.2,-1,-0.8,-0.6,-0.4,-0.2,0,0.2,0.4,0.6,0.8,1,1.2,1.4,1.6,1.8,2,2.2,2.4,2.6,2.8],"grid":false,"labels":false,"ticks":true,"tickSize":2,"tickColor":"#a8a8a8","domain":true,"domainColor":"#c4cac4","title":null,"minExtent":0,"maxExtent":0}},
        "y":{"field":"v","type":"quantitative","scale":{"domain":[-3.35,4.0],"nice":false,"zero":false},"axis":{"orient":"left","offset":-156.95,"values":[-3.2,-3,-2.8,-2.6,-2.4,-2.2,-2,-1.8,-1.6,-1.4,-1.2,-1,-0.8,-0.6,-0.4,-0.2,0,0.2,0.4,0.6,0.8,1,1.2,1.4,1.6,1.8,2,2.2,2.4,2.6,2.8,3,3.2,3.4,3.6,3.8,4],"grid":false,"labels":false,"ticks":true,"tickSize":2,"tickColor":"#a8a8a8","domain":true,"domainColor":"#c4cac4","title":null,"minExtent":0,"maxExtent":0}}}},
      {"data":{"name":"dR"},"mark":{"type":"line","opacity":0},
       "encoding":{
        "x":{"field":"t","type":"quantitative","scale":{"domain":[-2.96,2.83],"nice":false,"zero":false},"axis":{"orient":"top","offset":-138.78,"values":[-2.8,-2.6,-2.4,-2.2,-2,-1.8,-1.6,-1.4,-1.2,-1,-0.8,-0.6,-0.4,-0.2,0,0.2,0.4,0.6,0.8,1,1.2,1.4,1.6,1.8,2,2.2,2.4,2.6,2.8],"grid":false,"labels":false,"ticks":true,"tickSize":2,"tickColor":"#a8a8a8","domain":false,"title":null,"minExtent":0,"maxExtent":0}},
        "y":{"field":"v","type":"quantitative","scale":{"domain":[-3.35,4.0],"nice":false,"zero":false},"axis":{"orient":"right","offset":-150.05,"values":[-3.2,-3,-2.8,-2.6,-2.4,-2.2,-2,-1.8,-1.6,-1.4,-1.2,-1,-0.8,-0.6,-0.4,-0.2,0,0.2,0.4,0.6,0.8,1,1.2,1.4,1.6,1.8,2,2.2,2.4,2.6,2.8,3,3.2,3.4,3.6,3.8,4],"grid":false,"labels":false,"ticks":true,"tickSize":2,"tickColor":"#a8a8a8","domain":false,"title":null,"minExtent":0,"maxExtent":0}}}},
      {"data":{"name":"dRlab"},"mark":{"type":"text","align":"left","baseline":"alphabetic","font":"Liberation Serif, Times New Roman, serif","fontSize":28,"fontStyle":"italic","fontWeight":"bold","color":"#000"},
       "encoding":{"x":{"field":"t","type":"quantitative","scale":{"domain":[-2.96,2.83],"nice":false,"zero":false},"axis":null},"y":{"field":"v","type":"quantitative","scale":{"domain":[-3.35,4.0],"nice":false,"zero":false},"axis":null},"text":{"field":"a"}}},
      {"data":{"name":"dRlab"},"mark":{"type":"text","align":"left","baseline":"alphabetic","font":"Liberation Serif, Times New Roman, serif","fontSize":17,"fontStyle":"italic","fontWeight":"bold","dx":9,"color":"#000"},
       "encoding":{"x":{"field":"t","type":"quantitative","scale":{"domain":[-2.96,2.83],"nice":false,"zero":false},"axis":null},"y":{"field":"v","type":"quantitative","scale":{"domain":[-3.35,4.0],"nice":false,"zero":false},"axis":null},"text":{"field":"b"}}}
     ],
     "resolve":{"axis":{"x":"independent","y":"independent"}}
    }
   ]
  }
 ]
}
